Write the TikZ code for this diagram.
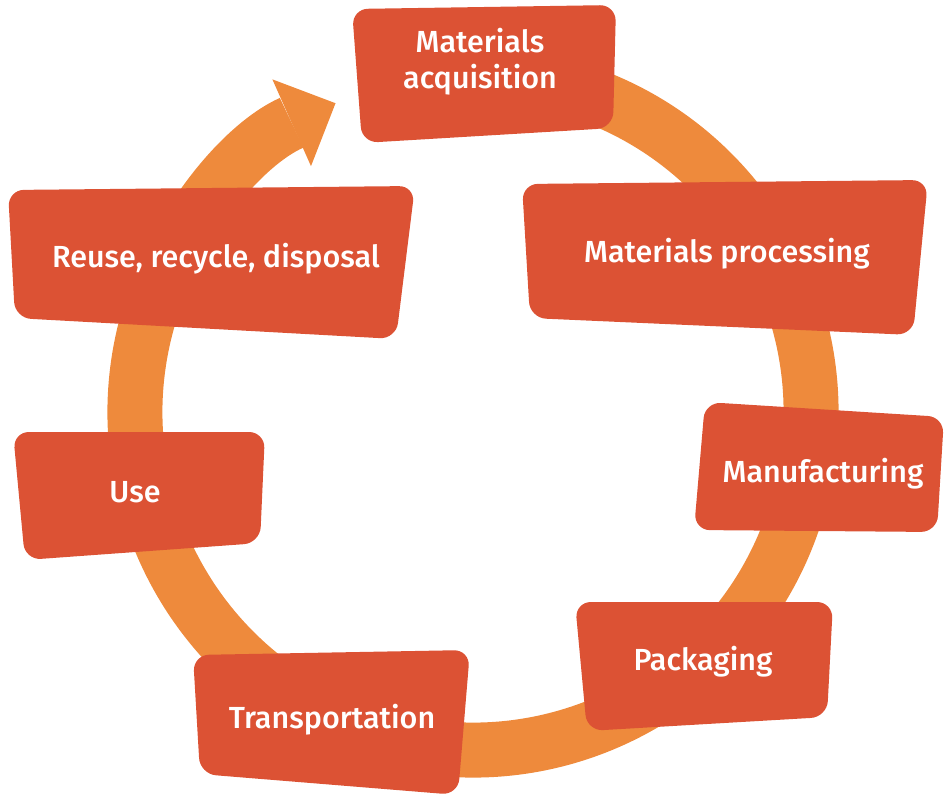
\documentclass[tikz,border=0pt]{standalone}
\usepackage{fontspec}
\setmainfont{Fira Sans}[BoldFont={Fira Sans Medium}]
\usetikzlibrary{arrows.meta}
\definecolor{boxred}{HTML}{DC5234}
\definecolor{ringor}{HTML}{EE8A3C}
\begin{document}
\begin{tikzpicture}[x=1pt,y=-1pt,
  stagebox/.style={fill=boxred, draw=none, rounded corners=16pt},
  stagetext/.style={text=white, font=\fontsize{30.5}{36}\selectfont\bfseries, align=center, inner sep=0pt},
  ringband/.style={draw=ringor, line width=55pt,
    -{Triangle[width=95pt,length=48pt,line width=0pt]}}]
\useasboundingbox (0,0) rectangle (948,798);
\coordinate (c) at (473,412);
% ring with arrow
\draw[ringband] (c) ++(-75:338) arc[start angle=-75,end angle=246,radius=338];
% boxes
\fill[stagebox] (352,9) -- (616,5) -- (613,128) -- (362,143) -- cycle;
\fill[stagebox] (522,184) -- (928,180) -- (913,335) -- (530,318) -- cycle;
\fill[stagebox] (705,402) -- (944,417) -- (937,532) -- (694,530) -- cycle;
\fill[stagebox] (575,602) -- (833,602) -- (827,717) -- (587,731) -- cycle;
\fill[stagebox] (193,655) -- (470,650) -- (458,795) -- (200,774) -- cycle;
\fill[stagebox] (13,432) -- (265,432) -- (260,543) -- (25,560) -- cycle;
\fill[stagebox] (8,190) -- (415,186) -- (396,339) -- (15,318) -- cycle;
% texts
\node[stagetext] (acq) at (480,62) {Materials\\acquisition};
\node[stagetext, anchor=base] (proc) at (727,262) {Materials processing};
\node[stagetext, anchor=base] (manu) at (823,482) {Manufacturing};
\node[stagetext, anchor=base] (pack) at (703,670) {Packaging};
\node[stagetext, anchor=base] (trans) at (332,728) {Transportation};
\node[stagetext, anchor=base] (use) at (135,502) {Use};
\node[stagetext, anchor=base] (reuse) at (216,267) {Reuse, recycle, disposal};
\end{tikzpicture}
\end{document}
